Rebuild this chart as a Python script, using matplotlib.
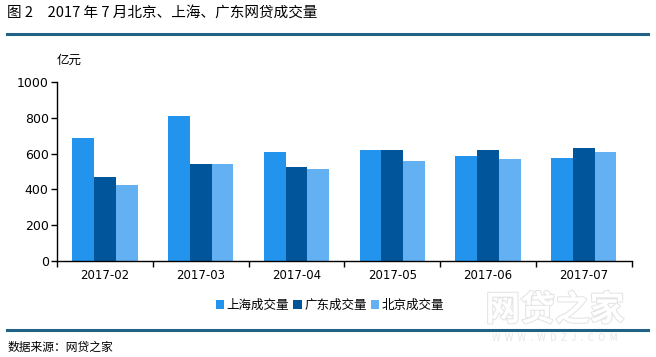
import matplotlib.pyplot as plt
import matplotlib.patheffects as pe
import numpy as np

# 2017 monthly P2P lending volume (亿元)
months = ["2017-02", "2017-03", "2017-04", "2017-05", "2017-06", "2017-07"]
shanghai = [685, 808, 607, 620, 587, 575]
guangdong = [467, 540, 523, 620, 620, 630]
beijing = [423, 540, 512, 559, 570, 609]
series_names = ["上海成交量", "广东成交量", "北京成交量"]
colors = ["#2394EE", "#00559B", "#63B1F2"]

plt.rcParams['font.family'] = ['Noto Sans CJK SC', 'DejaVu Sans']

fig = plt.figure(figsize=(6.56, 3.57), dpi=100)
ax = fig.add_axes([0.087, 0.269, 0.876, 0.501])

x = np.arange(len(months))
w = 0.227
for i, (vals, name) in enumerate(zip([shanghai, guangdong, beijing], series_names)):
    ax.bar(x + (i - 1) * w, vals, width=w, color=colors[i], label=name)

ax.set_xlim(-0.5, len(months) - 0.5)
ax.set_ylim(0, 1000)
ax.set_yticks(range(0, 1001, 200))
ax.set_xticks(x)
ax.set_xticklabels(months, fontfamily='DejaVu Sans', fontsize=8.5)
ax.set_xticks(np.arange(-0.5, len(months), 1), minor=True)
ax.tick_params(axis='x', which='major', length=0, pad=6)
ax.tick_params(axis='x', which='minor', length=4, width=1, color='black')
ax.tick_params(axis='y', length=4, width=1, labelsize=9, pad=2)
for lab in ax.get_yticklabels():
    lab.set_fontfamily('DejaVu Sans')
ax.spines['top'].set_visible(False)
ax.spines['right'].set_visible(False)
ax.spines['left'].set_linewidth(1)
ax.spines['bottom'].set_linewidth(1)

fig.text(0.087, 0.83, "亿元", fontsize=9, ha='left', va='center')

leg = fig.legend(loc='center', bbox_to_anchor=(0.503, 0.145), ncol=3, frameon=False,
                 fontsize=9, handlelength=0.7, handleheight=0.8, handletextpad=0.2,
                 columnspacing=0.3)

# header and footer
fig.text(0.011, 0.962, "图 2　2017 年 7 月北京、上海、广东网贷成交量", fontsize=10.5,
         ha='left', va='center')
fig.add_artist(plt.Line2D([0.011, 0.988], [0.905, 0.905], color='#1F6286', linewidth=2.2))
fig.add_artist(plt.Line2D([0.011, 0.988], [0.076, 0.076], color='#1F6286', linewidth=2.2))
fig.text(0.011, 0.028, "数据来源：网贷之家", fontsize=8.5, ha='left', va='center')

# watermark
fig.text(0.846, 0.132, "网贷之家", fontsize=25, color='white', ha='center', va='center',
         fontweight='bold', zorder=5,
         path_effects=[pe.withStroke(linewidth=1.5, foreground='#E4E4E4')])
fig.text(0.846, 0.053, "W  W  W  .  W  D  Z  J  .  C  O  M", fontsize=7, color='#E6E6E6',
         ha='center', va='center', zorder=0)

fig.savefig("out.png", dpi=100)
